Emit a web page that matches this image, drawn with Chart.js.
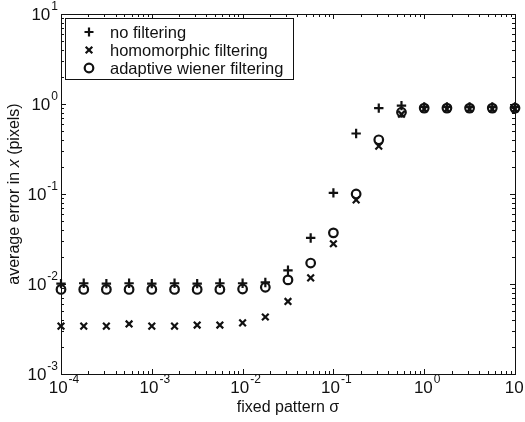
<!DOCTYPE html>
<html>
<head>
<meta charset="utf-8">
<script src="https://cdn.jsdelivr.net/npm/chart.js@4.4.1/dist/chart.umd.min.js"></script>
<style>
  body { margin: 0; background: #fff; }
  canvas { display: block; }
</style>
</head>
<body>
<canvas id="errChart" width="525" height="422"></canvas>
<script>
// fixed pattern sigma (x) and average error in x (pixels) for each method
var sigmaValues = [1e-4, 1.78e-4, 3.16e-4, 5.62e-4, 1e-3, 1.78e-3, 3.16e-3, 5.62e-3,
                   0.01, 0.0178, 0.0316, 0.0562, 0.1, 0.178, 0.316, 0.562,
                   1, 1.78, 3.16, 5.62, 10];
var noFiltering = [0.0101, 0.0102, 0.0101, 0.0102, 0.0101, 0.0102, 0.0101, 0.0102,
                   0.0102, 0.0104, 0.0142, 0.0325, 0.103, 0.47, 0.90, 0.96,
                   0.93, 0.93, 0.93, 0.93, 0.93];
var homomorphic = [0.0034, 0.0034, 0.0034, 0.0036, 0.0034, 0.0034, 0.0035, 0.0035,
                   0.0037, 0.0043, 0.0064, 0.0117, 0.028, 0.086, 0.34, 0.77,
                   0.88, 0.88, 0.88, 0.88, 0.88];
var adaptiveWiener = [0.0087, 0.0087, 0.0087, 0.0087, 0.0087, 0.0087, 0.0087, 0.0087,
                      0.0088, 0.0092, 0.0111, 0.0171, 0.037, 0.100, 0.40, 0.81,
                      0.90, 0.90, 0.90, 0.90, 0.90];
var seriesNames = ["no filtering", "homomorphic filtering", "adaptive wiener filtering"];
var xTickExps = [-4, -3, -2, -1, 0, 1];
var yTickExps = [-3, -2, -1, 0, 1];

var INK = '#111';
var FONT = '"Liberation Sans", Arial, Helvetica, sans-serif';

function toPoints(ys) {
    return sigmaValues.map(function (x, i) { return { x: x, y: ys[i] }; });
}

function drawMarker(ctx, style, x, y) {
    ctx.beginPath();
    if (style == 'cross') {
        ctx.moveTo(x - 4.5, y); ctx.lineTo(x + 4.5, y);
        ctx.moveTo(x, y - 4.5); ctx.lineTo(x, y + 4.5);
    } else if (style == 'crossRot') {
        ctx.moveTo(x - 3.3, y - 3.3); ctx.lineTo(x + 3.3, y + 3.3);
        ctx.moveTo(x - 3.3, y + 3.3); ctx.lineTo(x + 3.3, y - 3.3);
    } else {
        ctx.arc(x, y, 4.3, 0, Math.PI * 2);
    }
    ctx.stroke();
}

// "10" with a superscript exponent
function powLabel(ctx, exp, x, y, align) {
    ctx.font = '17px ' + FONT;
    var w10 = ctx.measureText('10').width;
    ctx.font = '12px ' + FONT;
    var wSup = ctx.measureText(String(exp)).width;
    var total = w10 + 1 + wSup;
    var start = align == 'center' ? x - total / 2 : x - total;
    ctx.textAlign = 'left';
    ctx.textBaseline = 'middle';
    ctx.font = '17px ' + FONT;
    ctx.fillText('10', start, y);
    ctx.font = '12px ' + FONT;
    ctx.fillText(String(exp), start + w10 + 1, y - 8);
}

var axesPlugin = {
    id: 'matlabAxes',
    beforeDatasetsDraw: function (chart) {
        var ctx = chart.ctx, a = chart.chartArea;
        var xs = chart.scales.x, ys = chart.scales.y;
        ctx.save();
        ctx.strokeStyle = INK;
        ctx.fillStyle = INK;
        ctx.lineWidth = 1;
        ctx.strokeRect(Math.round(a.left) + 0.5, Math.round(a.top) + 0.5,
                       Math.round(a.right - a.left), Math.round(a.bottom - a.top));

        // inward ticks, major at decades and minor 2..9
        ctx.beginPath();
        xTickExps.forEach(function (e) {
            for (var m = 1; m <= 9; m++) {
                var v = m * Math.pow(10, e);
                if (v > 10.0001) break;
                var px = Math.round(xs.getPixelForValue(v)) + 0.5;
                var len = m == 1 ? 5 : 3;
                ctx.moveTo(px, a.bottom); ctx.lineTo(px, a.bottom - len);
                ctx.moveTo(px, a.top); ctx.lineTo(px, a.top + len);
            }
        });
        yTickExps.forEach(function (e) {
            for (var m = 1; m <= 9; m++) {
                var v = m * Math.pow(10, e);
                if (v > 10.0001) break;
                var py = Math.round(ys.getPixelForValue(v)) + 0.5;
                var len = m == 1 ? 5 : 3;
                ctx.moveTo(a.left, py); ctx.lineTo(a.left + len, py);
                ctx.moveTo(a.right, py); ctx.lineTo(a.right - len, py);
            }
        });
        ctx.stroke();

        xTickExps.forEach(function (e) {
            powLabel(ctx, e, xs.getPixelForValue(Math.pow(10, e)) + 3, a.bottom + 14, 'center');
        });
        yTickExps.forEach(function (e) {
            powLabel(ctx, e, a.left - 3, ys.getPixelForValue(Math.pow(10, e)) + 1, 'right');
        });

        // axis titles
        ctx.font = '16px ' + FONT;
        ctx.textAlign = 'center';
        ctx.textBaseline = 'middle';
        ctx.fillText('fixed pattern \u03c3', (a.left + a.right) / 2, 408);

        ctx.translate(15, (a.top + a.bottom) / 2);
        ctx.rotate(-Math.PI / 2);
        var p1 = 'average error in ', p2 = 'x', p3 = ' (pixels)';
        ctx.font = '16px ' + FONT;
        var w1 = ctx.measureText(p1).width, w3 = ctx.measureText(p3).width;
        ctx.font = 'italic 16px ' + FONT;
        var w2 = ctx.measureText(p2).width;
        var sx = -(w1 + w2 + w3) / 2;
        ctx.textAlign = 'left';
        ctx.font = '16px ' + FONT;
        ctx.fillText(p1, sx, 0);
        ctx.font = 'italic 16px ' + FONT;
        ctx.fillText(p2, sx + w1, 0);
        ctx.font = '16px ' + FONT;
        ctx.fillText(p3, sx + w1 + w2, 0);
        ctx.restore();
    },
    afterDraw: function (chart) {
        var ctx = chart.ctx;
        ctx.save();
        ctx.fillStyle = '#fff';
        ctx.fillRect(65, 18, 228, 61);
        ctx.strokeStyle = INK;
        ctx.lineWidth = 1;
        ctx.strokeRect(65.5, 18.5, 228, 61);
        ctx.lineWidth = 2.2;
        ctx.fillStyle = INK;
        ctx.font = '16.5px ' + FONT;
        ctx.textAlign = 'left';
        ctx.textBaseline = 'middle';
        chart.data.datasets.forEach(function (ds, i) {
            var y = 32 + i * 18;
            drawMarker(ctx, ds.pointStyle, 89, y);
            ctx.fillText(ds.label, 110, y + 1);
        });
        ctx.restore();
    }
};

function makeSet(label, values, style) {
    return {
        label: label,
        data: toPoints(values),
        pointStyle: style,
        pointRadius: style == 'circle' ? 4.3 : 4.7,
        pointBorderWidth: 2.2,
        pointBorderColor: INK,
        pointBackgroundColor: 'rgba(0,0,0,0)',
        showLine: false,
        clip: false
    };
}

var chart = new Chart(document.getElementById('errChart'), {
    type: 'scatter',
    data: {
        datasets: [
            makeSet(seriesNames[0], noFiltering, 'cross'),
            makeSet(seriesNames[1], homomorphic, 'crossRot'),
            makeSet(seriesNames[2], adaptiveWiener, 'circle')
        ]
    },
    options: {
        responsive: false,
        animation: false,
        layout: { padding: { left: 61, top: 14, right: 10, bottom: 48 } },
        plugins: {
            legend: { display: false },
            tooltip: { enabled: false }
        },
        scales: {
            x: { type: 'logarithmic', min: 1e-4, max: 10, display: false },
            y: { type: 'logarithmic', min: 1e-3, max: 10, display: false }
        }
    },
    plugins: [axesPlugin]
});
</script>
</body>
</html>
